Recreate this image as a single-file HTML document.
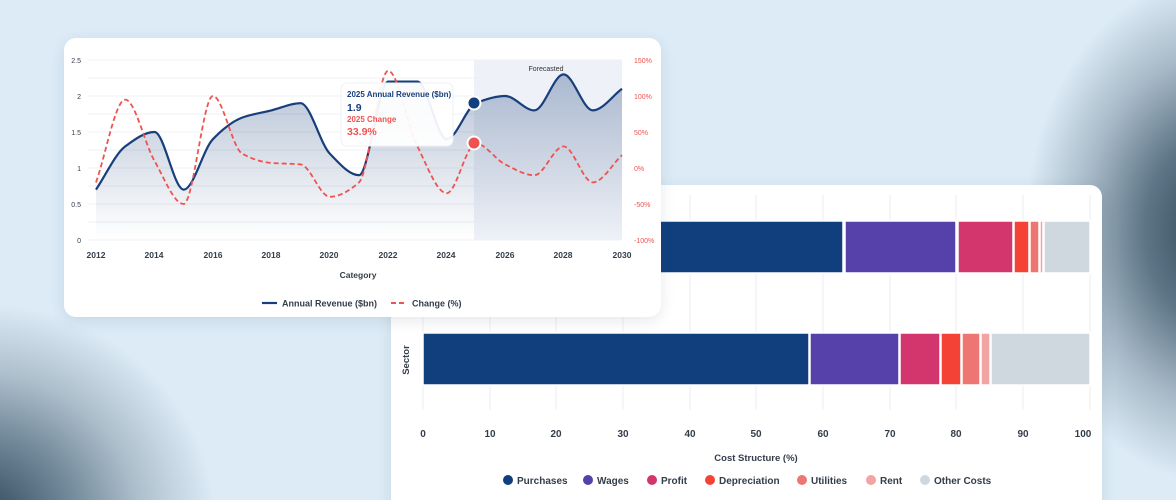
<!DOCTYPE html>
<html><head><meta charset="utf-8"><style>
html,body{margin:0;padding:0;width:1176px;height:500px;overflow:hidden}
#wrap{width:1176px;height:500px;overflow:hidden;position:relative;font-family:"Liberation Sans",sans-serif;
background:radial-gradient(ellipse 250px 230px at -20px 520px,#2e4558 0px,#6f8798 90px,#aebfcc 160px,rgba(220,235,246,0) 235px),
radial-gradient(ellipse 150px 200px at 1215px 230px,#2f4556 0px,#5d7586 70px,#a6b8c6 130px,rgba(220,235,246,0) 190px),#dcebf6;}
.card{position:absolute;background:#fff;border-radius:12px;box-shadow:0 4px 14px rgba(40,70,100,.12)}
svg text{font-family:"Liberation Sans",sans-serif}
</style></head><body><div id="wrap">
<div class="card" style="left:391px;top:185px;width:711px;height:330px"></div>
<svg style="position:absolute;left:0;top:0" width="1176" height="500">
<g stroke="#eceef1" stroke-width="1">
<line x1="423" y1="195" x2="423" y2="410"/><line x1="490" y1="195" x2="490" y2="410"/><line x1="556" y1="195" x2="556" y2="410"/><line x1="623" y1="195" x2="623" y2="410"/><line x1="690" y1="195" x2="690" y2="410"/><line x1="756" y1="195" x2="756" y2="410"/><line x1="823" y1="195" x2="823" y2="410"/><line x1="890" y1="195" x2="890" y2="410"/><line x1="956" y1="195" x2="956" y2="410"/><line x1="1023" y1="195" x2="1023" y2="410"/><line x1="1090" y1="195" x2="1090" y2="410"/>
</g>
<g stroke="#fff" stroke-width="1.5">
<rect x="423" y="221" width="420" height="52" fill="#113f7e"/>
<rect x="845" y="221" width="111" height="52" fill="#5640a9"/>
<rect x="958" y="221" width="55" height="52" fill="#d2366c"/>
<rect x="1014" y="221" width="15" height="52" fill="#f44336"/>
<rect x="1030" y="221" width="9" height="52" fill="#ee7672"/>
<rect x="1040" y="221" width="3" height="52" fill="#f4a3a3"/>
<rect x="1044" y="221" width="46" height="52" fill="#d0d8df"/>
<rect x="423" y="333" width="386" height="52" fill="#113f7e"/>
<rect x="810" y="333" width="89" height="52" fill="#5640a9"/>
<rect x="900" y="333" width="40" height="52" fill="#d2366c"/>
<rect x="941" y="333" width="20" height="52" fill="#f44336"/>
<rect x="962" y="333" width="18" height="52" fill="#ee7672"/>
<rect x="981" y="333" width="9" height="52" fill="#f4a3a3"/>
<rect x="991" y="333" width="99" height="52" fill="#d0d8df"/>
</g>
<g font-size="10" font-weight="bold" fill="#333d4a" text-anchor="middle">
<text x="423" y="437">0</text><text x="490" y="437">10</text><text x="556" y="437">20</text><text x="623" y="437">30</text><text x="690" y="437">40</text><text x="756" y="437">50</text><text x="823" y="437">60</text><text x="890" y="437">70</text><text x="956" y="437">80</text><text x="1023" y="437">90</text><text x="1083" y="437">100</text>
<text x="756" y="461" font-size="9.5">Cost Structure (%)</text>
<text transform="translate(409,360) rotate(-90)" font-size="9.5">Sector</text>
</g>
<g font-size="10" fill="#333d4a" font-weight="bold">
<circle cx="508" cy="480" r="5" fill="#113f7e"/><text x="517" y="484">Purchases</text>
<circle cx="588" cy="480" r="5" fill="#5640a9"/><text x="597" y="484">Wages</text>
<circle cx="652" cy="480" r="5" fill="#d2366c"/><text x="661" y="484">Profit</text>
<circle cx="710" cy="480" r="5" fill="#f44336"/><text x="719" y="484">Depreciation</text>
<circle cx="802" cy="480" r="5" fill="#ee7672"/><text x="811" y="484">Utilities</text>
<circle cx="871" cy="480" r="5" fill="#f4a3a3"/><text x="880" y="484">Rent</text>
<circle cx="925" cy="480" r="5" fill="#d0d8df"/><text x="934" y="484">Other Costs</text>
</g>
</svg>
<div class="card" style="left:64px;top:38px;width:597px;height:279px"></div>
<svg style="position:absolute;left:0;top:0" width="1176" height="500">
<defs><linearGradient id="ga" x1="0" y1="0" x2="0" y2="1"><stop offset="0" stop-color="#1a3f7a" stop-opacity=".32"/><stop offset="1" stop-color="#1a3f7a" stop-opacity="0"/></linearGradient></defs>
<rect x="474" y="60" width="148" height="180" fill="#eef1f7"/>
<g id="grid" stroke="#eef0f3" stroke-width="1"></g>
<text x="546" y="71" font-size="7" fill="#333" text-anchor="middle">Forecasted</text>
<path id="area" fill="url(#ga)"/>
<path id="rev" fill="none" stroke="#173f7c" stroke-width="2.2"/>
<path id="chg" fill="none" stroke="#ef5350" stroke-width="1.8" stroke-dasharray="5,3"/>
<g font-size="7" fill="#333d4a" text-anchor="end">
<text x="81" y="63">2.5</text><text x="81" y="99">2</text><text x="81" y="135">1.5</text><text x="81" y="171">1</text><text x="81" y="207">0.5</text><text x="81" y="243">0</text>
</g>
<g font-size="7" fill="#ef5350">
<text x="634" y="63">150%</text><text x="634" y="99">100%</text><text x="634" y="135">50%</text><text x="634" y="171">0%</text><text x="634" y="207">-50%</text><text x="634" y="243">-100%</text>
</g>
<g font-size="8.5" font-weight="bold" fill="#333d4a" text-anchor="middle">
<text x="96" y="258">2012</text><text x="154" y="258">2014</text><text x="213" y="258">2016</text><text x="271" y="258">2018</text><text x="329" y="258">2020</text><text x="388" y="258">2022</text><text x="446" y="258">2024</text><text x="505" y="258">2026</text><text x="563" y="258">2028</text><text x="622" y="258">2030</text>
<text x="358" y="278">Category</text>
</g>
<rect x="341" y="83" width="112" height="63" rx="6" fill="#fff" fill-opacity=".93" stroke="#eef0f3"/>
<text x="347" y="97" font-size="8" font-weight="bold" fill="#173f7c">2025 Annual Revenue ($bn)</text>
<text x="347" y="111" font-size="10.5" font-weight="bold" fill="#173f7c">1.9</text>
<text x="347" y="122" font-size="8" font-weight="bold" fill="#ef5350">2025 Change</text>
<text x="347" y="135" font-size="10.5" font-weight="bold" fill="#ef5350">33.9%</text>
<circle cx="474" cy="103" r="6.5" fill="#113f7e" stroke="#fff" stroke-width="2"/>
<circle cx="474" cy="143" r="6.5" fill="#ef5350" stroke="#fff" stroke-width="2"/>
<line x1="262" y1="303" x2="277" y2="303" stroke="#173f7c" stroke-width="2.2"/>
<text x="282" y="306.5" font-size="9" font-weight="bold" fill="#333d4a">Annual Revenue ($bn)</text>
<line x1="391" y1="303" x2="407" y2="303" stroke="#ef5350" stroke-width="2" stroke-dasharray="5,3"/>
<text x="412" y="306.5" font-size="9" font-weight="bold" fill="#333d4a">Change (%)</text>
</svg>
</div>
<script>
var g=document.getElementById('grid'),s='';
for(var i=0;i<=10;i++){var y=60+i*18;s+='<line x1="88" y1="'+y+'" x2="622" y2="'+y+'"/>';}
g.innerHTML=s;
var X=function(i){return 96+i*526/18;};
var rev=[0.7,1.3,1.5,0.7,1.4,1.7,1.8,1.9,1.2,0.9,2.2,2.2,1.4,1.9,2.0,1.8,2.3,1.8,2.1];
var chg=[-20,95,10,-50,100,20,7,5,-40,-20,135,30,-35,33.9,5,-10,30,-20,18];
function mono(pts){var n=pts.length,d=[],m=[];for(var i=0;i<n-1;i++)d.push((pts[i+1][1]-pts[i][1])/(pts[i+1][0]-pts[i][0]));
m[0]=d[0];m[n-1]=d[n-2];for(i=1;i<n-1;i++){m[i]=(d[i-1]*d[i]<=0)?0:2/(1/d[i-1]+1/d[i]);}
var p='M'+pts[0][0]+','+pts[0][1];for(i=0;i<n-1;i++){var h=(pts[i+1][0]-pts[i][0])/3;
p+=' C'+(pts[i][0]+h)+','+(pts[i][1]+m[i]*h)+' '+(pts[i+1][0]-h)+','+(pts[i+1][1]-m[i+1]*h)+' '+pts[i+1][0]+','+pts[i+1][1];}return p;}
var rp=rev.map(function(v,i){return [X(i),240-v*72];});
var cp=chg.map(function(v,i){return [X(i),168-v*0.72];});
var r=mono(rp);
document.getElementById('rev').setAttribute('d',r);
document.getElementById('area').setAttribute('d',r+' L622,240 L96,240 Z');
document.getElementById('chg').setAttribute('d',mono(cp));
</script>
</body></html>
